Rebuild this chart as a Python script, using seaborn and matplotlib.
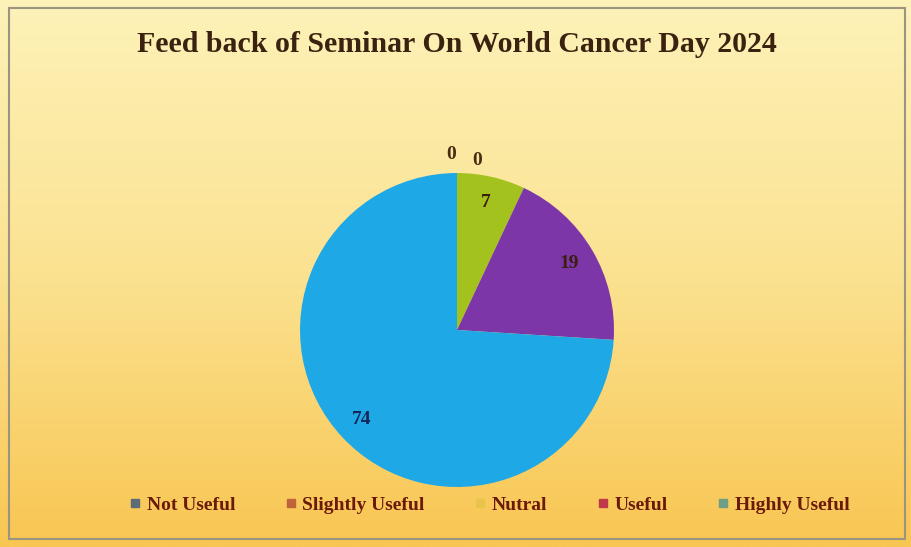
import numpy as np
import seaborn as sns
import matplotlib
matplotlib.use("Agg")
import matplotlib.pyplot as plt
from matplotlib.colors import LinearSegmentedColormap
from matplotlib.patches import Rectangle

categories = ["Not Useful", "Slightly Useful", "Nutral", "Useful", "Highly Useful"]
values = [0, 0, 7, 19, 74]
pie_colors = ["#4f6f9a", "#c0504d", "#a4c21e", "#7d36a8", "#1ea8e6"]
legend_colors = ["#5b6b78", "#c0623a", "#e9c44a", "#c0394a", "#6e9e86"]
title = "Feed back of Seminar On World Cancer Day 2024"

sns.set_style("white")
plt.rcParams["font.family"] = ["Liberation Serif", "DejaVu Serif"]

fig = plt.figure(figsize=(9.11, 5.47), dpi=100)

# background gradient
bg = fig.add_axes([0, 0, 1, 1], zorder=-10)
cmap = LinearSegmentedColormap.from_list("bg", ["#fdf2b8", "#fbe291", "#f8c652"])
grad = np.linspace(0, 1, 256).reshape(-1, 1)
bg.imshow(grad, aspect="auto", cmap=cmap, extent=[0, 1, 0, 1])
bg.add_patch(Rectangle((0.01, 0.014), 0.983, 0.972, fill=False, edgecolor="#9a9480", lw=1.5))
bg.set_axis_off()

ax = fig.add_axes([0.3293, 0.1097, 0.3447, 0.574])
wedges, _ = ax.pie(values, colors=pie_colors, startangle=90, counterclock=False,
                   radius=1.0, wedgeprops=dict(linewidth=0))
ax.set_aspect("equal")
ax.set_xlim(-1, 1)
ax.set_ylim(-1, 1)
ax.set_axis_off()

zero_shift = [-0.04, 0.13]
zi = 0
for w, v in zip(wedges, values):
    ang = np.deg2rad((w.theta1 + w.theta2) / 2)
    if v == 0:
        r = 1.12
        x, y = r * np.cos(ang) + zero_shift[zi], r * np.sin(ang) - 0.04 * zi
        zi += 1
        col = "#4a2c10"
    else:
        r = 0.83
        x, y = r * np.cos(ang), r * np.sin(ang)
        col = "#14265a" if v == 74 else "#3a1f0f"
    ax.text(x, y, str(v), ha="center", va="center", fontsize=14,
            fontweight="bold", color=col, clip_on=False)

fig.text(0.501, 0.918, title, ha="center", va="center", fontsize=21.5,
         fontweight="bold", color="#3b2210")

handles = [plt.Line2D([], [], marker="s", ls="", markersize=6, color=c) for c in legend_colors]
leg = fig.legend(handles, categories, loc="center", bbox_to_anchor=(0.537, 0.077), ncol=5,
                 frameon=False, fontsize=14, handlelength=0.6, handletextpad=0.3,
                 columnspacing=2.55)
for t in leg.get_texts():
    t.set_color("#6b1a0a")
    t.set_fontweight("bold")

fig.savefig("out.png", dpi=100)
